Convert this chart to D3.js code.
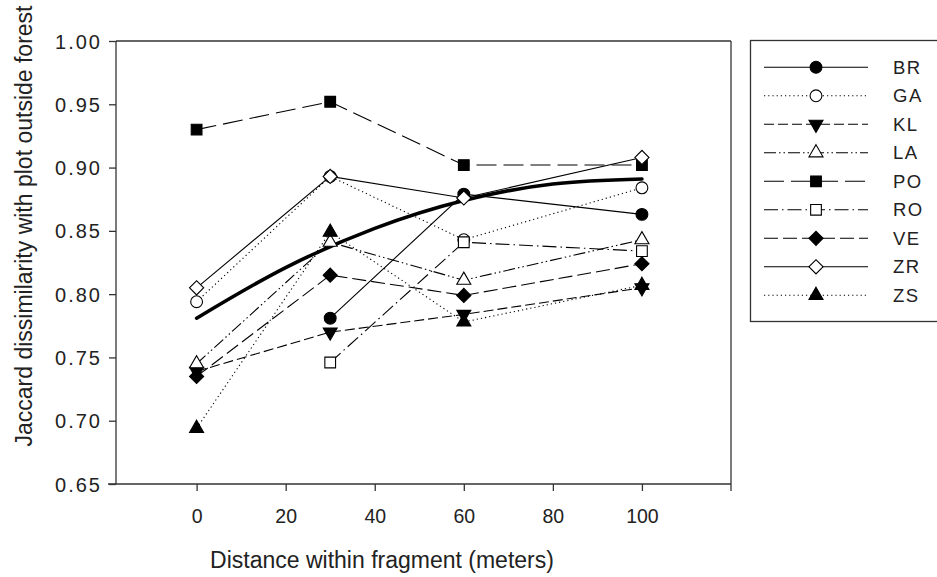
<!DOCTYPE html>
<html>
<head>
<meta charset="utf-8">
<script src="https://cdn.jsdelivr.net/npm/d3@7"></script>
<style>
  body { margin: 0; background: #fff; }
  svg { display: block; font-family: "Liberation Sans", Arial, sans-serif; }
</style>
</head>
<body>
<svg id="chart" width="937" height="577"></svg>
<script>
// distances sampled in each fragment (m)
var distances = [0, 30, 60, 100];

var siteNames = ['BR', 'GA', 'KL', 'LA', 'PO', 'RO', 'VE', 'ZR', 'ZS'];

// Jaccard dissimilarity per site, null where the site has no plot
var brValues = [null, 0.781, 0.879, 0.863];
var gaValues = [0.794, 0.893, 0.843, 0.884];
var klValues = [0.739, 0.770, 0.784, 0.805];
var laValues = [0.745, 0.841, 0.811, 0.843];
var poValues = [0.930, 0.952, 0.902, 0.902];
var roValues = [null, 0.746, 0.841, 0.834];
var veValues = [0.735, 0.815, 0.799, 0.824];
var zrValues = [0.805, 0.893, 0.876, 0.908];
var zsValues = [0.694, 0.849, 0.778, 0.807];

// overall trend (thick curve)
var trendDistances = [0, 20, 40, 60, 80, 100];
var trendValues = [0.781, 0.821, 0.852, 0.874, 0.887, 0.891];

var xTicks = [0, 20, 40, 60, 80, 100];
var yTicks = [0.65, 0.70, 0.75, 0.80, 0.85, 0.90, 0.95, 1.00];

var xTitle = 'Distance within fragment (meters)';
var yTitle = 'Jaccard dissimilarity with plot outside forest';

var seriesValues = [brValues, gaValues, klValues, laValues, poValues, roValues, veValues, zrValues, zsValues];

// marker shape, fill and dash pattern for each site
var styles = {
  BR: { symbol: 'circle', size: 110, fill: '#000', dash: null },
  GA: { symbol: 'circle', size: 110, fill: '#fff', dash: '1.2,3' },
  KL: { symbol: 'down', size: 85, fill: '#000', dash: '10,4' },
  LA: { symbol: 'up', size: 85, fill: '#fff', dash: '12,3,1.5,3,1.5,3' },
  PO: { symbol: 'square', size: 115, fill: '#000', dash: '20,7' },
  RO: { symbol: 'square', size: 115, fill: '#fff', dash: '14,4,1.5,4' },
  VE: { symbol: 'diamond', size: 100, fill: '#000', dash: '14,5' },
  ZR: { symbol: 'diamond', size: 100, fill: '#fff', dash: null },
  ZS: { symbol: 'up', size: 85, fill: '#000', dash: '1.2,3' }
};

var symbolTypes = {
  circle: d3.symbolCircle,
  up: d3.symbolTriangle,
  down: d3.symbolTriangle,
  square: d3.symbolSquare,
  diamond: d3.symbolSquare
};

var plot = { left: 116, right: 731, top: 41, bottom: 484 };

var svg = d3.select('#chart');

var x = d3.scaleLinear().domain([-18.1, 120]).range([plot.left, plot.right]);
var y = d3.scaleLinear().domain([0.65, 1.00]).range([plot.bottom, plot.top]);

function symbolPath(style) {
  return d3.symbol().type(symbolTypes[style.symbol]).size(style.size)();
}

function markerTransform(style, px, py) {
  var t = 'translate(' + px + ',' + py + ')';
  if (style.symbol === 'down') t += ' rotate(180)';
  if (style.symbol === 'diamond') t += ' rotate(45)';
  return t;
}

// frame
var frame = svg.append('g')
  .attr('stroke', '#333')
  .attr('stroke-width', 1.3)
  .attr('fill', 'none');

frame.append('line').attr('x1', plot.left).attr('x2', plot.right).attr('y1', plot.top).attr('y2', plot.top);
frame.append('line').attr('x1', plot.right).attr('x2', plot.right).attr('y1', plot.top).attr('y2', plot.bottom + 7);
frame.append('line').attr('x1', plot.left - 8).attr('x2', plot.right).attr('y1', plot.bottom).attr('y2', plot.bottom);
frame.append('line').attr('x1', plot.left).attr('x2', plot.left).attr('y1', plot.top).attr('y2', plot.bottom);

// axes
var xAxis = svg.append('g')
  .attr('transform', 'translate(0,' + plot.bottom + ')')
  .call(d3.axisBottom(x).tickValues(xTicks).tickSize(7).tickSizeOuter(0));

xAxis.select('.domain').remove();
xAxis.selectAll('line').attr('stroke', '#333').attr('stroke-width', 1.3);
xAxis.selectAll('text')
  .attr('y', 39)
  .attr('dy', null)
  .attr('fill', '#222')
  .style('font-size', '19.5px')
  .style('font-family', '"Liberation Sans", Arial, sans-serif');

var yAxis = svg.append('g')
  .attr('transform', 'translate(' + plot.left + ',0)')
  .call(d3.axisLeft(y).tickValues(yTicks).tickSize(7).tickSizeOuter(0).tickFormat(d3.format('.2f')));

yAxis.select('.domain').remove();
yAxis.selectAll('line').attr('stroke', '#333').attr('stroke-width', 1.3);
yAxis.selectAll('text')
  .attr('x', -14)
  .attr('dy', '0.35em')
  .attr('fill', '#222')
  .style('font-size', '20px')
  .style('letter-spacing', '2px')
  .style('font-family', '"Liberation Sans", Arial, sans-serif');

svg.append('text')
  .attr('x', 382)
  .attr('y', 568)
  .attr('text-anchor', 'middle')
  .attr('fill', '#222')
  .style('font-size', '23px')
  .text(xTitle);

svg.append('text')
  .attr('transform', 'translate(32,226) rotate(-90)')
  .attr('text-anchor', 'middle')
  .attr('fill', '#222')
  .style('font-size', '23px')
  .text(yTitle);

// series lines
var line = d3.line()
  .defined(function(d) { return d[1] !== null; })
  .x(function(d) { return x(d[0]); })
  .y(function(d) { return y(d[1]); });

var series = siteNames.map(function(name, i) {
  return {
    name: name,
    style: styles[name],
    points: distances.map(function(dist, j) { return [dist, seriesValues[i][j]]; })
  };
});

var lines = svg.append('g').attr('fill', 'none').attr('stroke', '#000').attr('stroke-width', 1.1);

lines.selectAll('path')
  .data(series)
  .enter()
  .append('path')
  .attr('d', function(s) { return line(s.points); })
  .attr('stroke-dasharray', function(s) { return s.style.dash; });

// trend curve
var trendLine = d3.line()
  .curve(d3.curveMonotoneX)
  .x(function(d) { return x(d[0]); })
  .y(function(d) { return y(d[1]); });

svg.append('path')
  .datum(trendDistances.map(function(d, i) { return [d, trendValues[i]]; }))
  .attr('d', trendLine)
  .attr('fill', 'none')
  .attr('stroke', '#000')
  .attr('stroke-width', 3.6)
  .attr('stroke-linecap', 'round');

// markers
var markers = svg.append('g');

series.forEach(function(s) {
  markers.selectAll(null)
    .data(s.points.filter(function(p) { return p[1] !== null; }))
    .enter()
    .append('path')
    .attr('d', symbolPath(s.style))
    .attr('transform', function(p) { return markerTransform(s.style, x(p[0]), y(p[1])); })
    .attr('fill', s.style.fill)
    .attr('stroke', '#000')
    .attr('stroke-width', 1.1);
});

// legend
var legend = svg.append('g');

legend.append('rect')
  .attr('x', 750.5)
  .attr('y', 40.5)
  .attr('width', 200)
  .attr('height', 281)
  .attr('fill', '#fff')
  .attr('stroke', '#333')
  .attr('stroke-width', 1.3);

var rows = legend.selectAll('g.row')
  .data(series)
  .enter()
  .append('g')
  .attr('class', 'row')
  .attr('transform', function(s, i) { return 'translate(0,' + (67.3 + i * 28.5) + ')'; });

rows.append('line')
  .attr('x1', 764)
  .attr('x2', 868)
  .attr('stroke', '#000')
  .attr('stroke-width', 1.1)
  .attr('stroke-dasharray', function(s) { return s.style.dash; });

rows.append('path')
  .attr('d', function(s) { return symbolPath(s.style); })
  .attr('transform', function(s) { return markerTransform(s.style, 816, 0); })
  .attr('fill', function(s) { return s.style.fill; })
  .attr('stroke', '#000')
  .attr('stroke-width', 1.1);

rows.append('text')
  .attr('x', 893)
  .attr('dy', '0.36em')
  .attr('fill', '#222')
  .style('font-size', '18.5px')
  .style('letter-spacing', '1.5px')
  .text(function(s) { return s.name; });
</script>
</body>
</html>
